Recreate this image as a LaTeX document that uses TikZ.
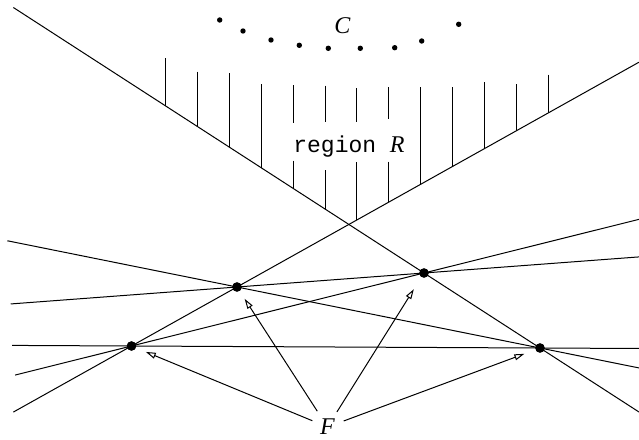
\documentclass[tikz,border=0pt]{standalone}
\usepackage{fontspec}
\setmainfont{Liberation Serif}
\setmonofont{Liberation Mono}
\usetikzlibrary{calc,arrows.meta}
\begin{document}
\begin{tikzpicture}[x=0.5pt,y=-0.5pt,
  ln/.style={line width=0.5pt},
  hatch/.style={line width=0.5pt},
  pt/.style={circle,fill=black,inner sep=0pt,minimum size=4.7pt},
  cdot/.style={circle,fill=black,inner sep=0pt,minimum size=2.7pt},
  arr/.style={line width=0.5pt,-{Triangle[open,length=5pt,width=3pt]}},
  lbl/.style={font=\fontsize{12}{14}\selectfont\itshape,inner sep=0pt}]
\useasboundingbox (0,0) rectangle (639,440);
% points
\node[pt] (P1) at (131.5,346) {};
\node[pt] (P2) at (237,287) {};
\node[pt] (P3) at (424,273) {};
\node[pt] (P4) at (540,348) {};
% arm end points
\coordinate (LA) at ($(P4.center)!4.54!(P3.center)$);
\coordinate (LB) at ($(P4.center)!-0.853!(P3.center)$);
\coordinate (RA) at ($(P1.center)!-1.12!(P2.center)$);
\coordinate (RB) at ($(P1.center)!4.81!(P2.center)$);
\coordinate (V) at (intersection of LA--LB and RA--RB);
% hatching of region R
\begin{scope}
  \clip (LA) -- (V) -- (RB) -- (639,-5) -- (0,-5) -- cycle;
  \foreach \x/\t/\a/\b in {165.3/58/300/300, 197.8/71.7/300/300, 229/73/300/300,
      261.7/84/300/300, 293/85/123.3/160.5, 325.7/85.7/122/170,
      356.7/88/121.7/162, 388/87/119/161.5, 420.7/87/300/300,
      452.3/87.3/300/300, 484.5/82/300/300, 516.3/84/300/300, 548.3/74.7/300/300}
    \draw[hatch] (\x,\t) -- (\x,\a) (\x,\b) -- (\x,300);
\end{scope}
% lines through pairs of points
\draw[ln] (LA) -- (LB);
\draw[ln] (RA) -- (RB);
\draw[ln] ($(P1.center)!-0.398!(P3.center)$) -- ($(P1.center)!1.735!(P3.center)$);
\draw[ln] ($(P2.center)!-0.758!(P4.center)$) -- ($(P2.center)!1.327!(P4.center)$);
\draw[ln] ($(P1.center)!-0.292!(P4.center)$) -- ($(P1.center)!1.242!(P4.center)$);
\draw[ln] ($(P2.center)!-1.21!(P3.center)$) -- ($(P2.center)!2.15!(P3.center)$);
% redraw dots on top
\foreach \p in {P1,P2,P3,P4} \fill (\p.center) circle[radius=4.7];
% set C
\foreach \i/\x/\y in {1/219.7/20, 2/243/31, 3/271/40, 4/299.3/45.3, 5/328.3/48.3,
    6/360.3/48.3, 7/394.7/47.7, 8/421.7/41, 9/458.7/24.3}
  \node[cdot] (c\i) at (\x,\y) {};
\node[lbl] (C) at (342.5,26) {C};
\node[anchor=base,inner sep=0pt] (R) at (349,152.7)
  {{\fontsize{11.5}{13}\selectfont\ttfamily region }{\fontsize{12}{14}\selectfont\itshape R}};
% F and arrows
\node[lbl] (F) at (327.5,427) {F};
\draw[arr,shorten <=4pt,shorten >=5.2pt] (F) -- (P1);
\draw[arr,shorten <=4.5pt,shorten >=4.5pt] (F) -- (P2);
\draw[arr,shorten <=4pt,shorten >=7pt] (F) -- (P3);
\draw[arr,shorten <=4.5pt,shorten >=5.8pt] (F) -- (P4);
\end{tikzpicture}
\end{document}
